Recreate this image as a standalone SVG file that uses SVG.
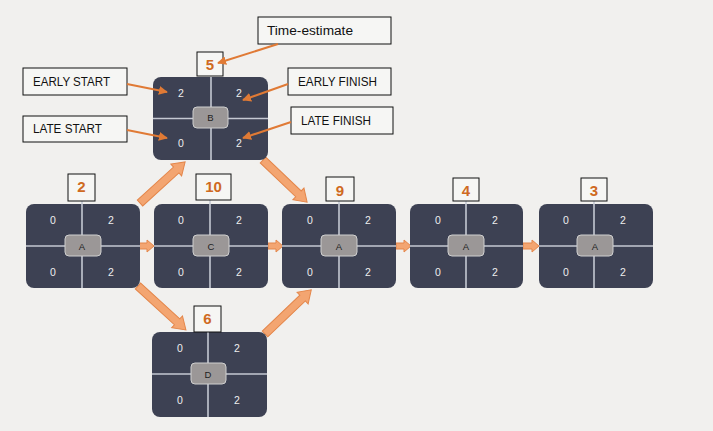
<svg xmlns="http://www.w3.org/2000/svg" width="713" height="431" viewBox="0 0 713 431">
<defs>
<marker id="ah" viewBox="0 0 10 10" refX="9" refY="5" markerWidth="4.5" markerHeight="4.5" orient="auto" markerUnits="strokeWidth">
<path d="M0,0 L10,5 L0,10 z" fill="#e07a35"/>
</marker>
</defs>
<style>
.bg{fill:#f1f0ee}
.node{fill:#3d4153}
.div{stroke:#c5c8d2;stroke-width:1.6}
.lbl{fill:#9b9797;stroke:#cfcfcf;stroke-width:1}
.num{font-family:"Liberation Sans",Arial,sans-serif;font-size:10.5px;fill:#eeeeee;text-anchor:middle}
.nm{font-family:"Liberation Sans",Arial,sans-serif;font-size:9.5px;fill:#1e1e1e;text-anchor:middle}
.est{fill:#f6f6f4;stroke:#111;stroke-width:1}
.estt{font-family:"Liberation Sans",Arial,sans-serif;font-size:15px;font-weight:bold;fill:#cf6a22;text-anchor:middle}
.cap{fill:#f6f6f4;stroke:#111;stroke-width:1}
.capt{font-family:"Liberation Sans",Arial,sans-serif;font-size:12.5px;fill:#111}
.thin{stroke:#e07a35;stroke-width:2;fill:none;marker-end:url(#ah)}
.blk{fill:#f3a571;stroke:#e4864a;stroke-width:1}
</style>
<rect class="bg" x="0" y="0" width="713" height="431"/>

<g id="connectors">
<path class="blk" d="M0,-4 L49,-4 L49,-8 L61,0 L49,8 L49,4 L0,4 z" transform="translate(140,203) rotate(-42.3)"/>
<path class="blk" d="M0,-4 L49,-4 L49,-8 L61,0 L49,8 L49,4 L0,4 z" transform="translate(263,160) rotate(43.7)"/>
<path class="blk" d="M0,-4 L53,-4 L53,-8 L65,0 L53,8 L53,4 L0,4 z" transform="translate(138,286) rotate(42.5)"/>
<path class="blk" d="M0,-4 L52,-4 L52,-8 L64,0 L52,8 L52,4 L0,4 z" transform="translate(265,334) rotate(-43.7)"/>
<path class="blk" d="M139,243 L147,243 L147,240 L154,246 L147,252 L147,249 L139,249 z"/>
<path class="blk" d="M268,243 L276,243 L276,240 L283,246 L276,252 L276,249 L268,249 z"/>
<path class="blk" d="M396,243 L404,243 L404,240 L411,246 L404,252 L404,249 L396,249 z"/>
<path class="blk" d="M523,243 L532,243 L532,240 L539,246 L532,252 L532,249 L523,249 z"/>
</g>

<g id="node-B" transform="translate(153,77)">
<rect class="node" x="0" y="0" width="115" height="83" rx="8"/>
<line class="div" x1="58" y1="0" x2="58" y2="83"/>
<line class="div" x1="0" y1="41.5" x2="115" y2="41.5"/>
<rect class="lbl" x="40" y="30" width="35" height="21" rx="4"/>
<text class="nm" x="57.5" y="44">B</text>
<text class="num" x="28" y="20">2</text><text class="num" x="86" y="20">2</text>
<text class="num" x="28" y="70">0</text><text class="num" x="86" y="70">2</text>
<rect class="est" x="44" y="-25" width="26" height="24"/>
<text class="estt" x="57" y="-7">5</text>
</g>

<g id="node-A" transform="translate(26,204)">
<rect class="node" x="0" y="0" width="114" height="84" rx="8"/>
<line class="div" x1="56" y1="-3" x2="56" y2="84"/>
<line class="div" x1="0" y1="42" x2="114" y2="42"/>
<rect class="lbl" x="39" y="31" width="36" height="21" rx="4"/>
<text class="nm" x="56" y="45.5">A</text>
<text class="num" x="27" y="20">0</text><text class="num" x="85" y="20">2</text>
<text class="num" x="27" y="72">0</text><text class="num" x="85" y="72">2</text>
<rect class="est" x="42" y="-30" width="27" height="27"/>
<text class="estt" x="55.5" y="-12">2</text>
</g>

<g id="node-C" transform="translate(154,204)">
<rect class="node" x="0" y="0" width="114" height="84" rx="8"/>
<line class="div" x1="56" y1="-4" x2="56" y2="84"/>
<line class="div" x1="0" y1="42" x2="114" y2="42"/>
<rect class="lbl" x="39" y="31" width="36" height="21" rx="4"/>
<text class="nm" x="57" y="45.5">C</text>
<text class="num" x="27" y="20">0</text><text class="num" x="85" y="20">2</text>
<text class="num" x="27" y="72">0</text><text class="num" x="85" y="72">2</text>
<rect class="est" x="42" y="-30" width="35" height="26"/>
<text class="estt" x="59.5" y="-12">10</text>
</g>

<g id="node-A2" transform="translate(282,204)">
<rect class="node" x="0" y="0" width="114" height="84" rx="8"/>
<line class="div" x1="57" y1="-3" x2="57" y2="84"/>
<line class="div" x1="0" y1="42" x2="114" y2="42"/>
<rect class="lbl" x="39" y="31" width="36" height="21" rx="4"/>
<text class="nm" x="57" y="45.5">A</text>
<text class="num" x="28" y="20">0</text><text class="num" x="86" y="20">2</text>
<text class="num" x="28" y="72">0</text><text class="num" x="86" y="72">2</text>
<rect class="est" x="44" y="-27" width="28" height="24"/>
<text class="estt" x="58" y="-8">9</text>
</g>

<g id="node-A3" transform="translate(410,204)">
<rect class="node" x="0" y="0" width="113" height="84" rx="8"/>
<line class="div" x1="56" y1="-3" x2="56" y2="84"/>
<line class="div" x1="0" y1="42" x2="113" y2="42"/>
<rect class="lbl" x="38" y="31" width="36" height="21" rx="4"/>
<text class="nm" x="56" y="45.5">A</text>
<text class="num" x="28" y="20">0</text><text class="num" x="85" y="20">2</text>
<text class="num" x="28" y="72">0</text><text class="num" x="85" y="72">2</text>
<rect class="est" x="43" y="-26" width="26" height="23"/>
<text class="estt" x="56" y="-8">4</text>
</g>

<g id="node-A4" transform="translate(539,204)">
<rect class="node" x="0" y="0" width="114" height="84" rx="8"/>
<line class="div" x1="55" y1="-3" x2="55" y2="84"/>
<line class="div" x1="0" y1="42" x2="114" y2="42"/>
<rect class="lbl" x="38" y="31" width="36" height="21" rx="4"/>
<text class="nm" x="56" y="45.5">A</text>
<text class="num" x="27" y="20">0</text><text class="num" x="84" y="20">2</text>
<text class="num" x="27" y="72">0</text><text class="num" x="84" y="72">2</text>
<rect class="est" x="42" y="-26" width="26" height="23"/>
<text class="estt" x="55" y="-8">3</text>
</g>

<g id="node-D" transform="translate(152,332)">
<rect class="node" x="0" y="0" width="115" height="85" rx="8"/>
<line class="div" x1="56" y1="0" x2="56" y2="85"/>
<line class="div" x1="0" y1="42" x2="115" y2="42"/>
<rect class="lbl" x="39" y="31" width="35" height="21" rx="4"/>
<text class="nm" x="56" y="45.5">D</text>
<text class="num" x="28" y="20">0</text><text class="num" x="85" y="20">2</text>
<text class="num" x="28" y="72">0</text><text class="num" x="85" y="72">2</text>
<rect class="est" x="42" y="-26" width="27" height="26"/>
<text class="estt" x="55.5" y="-8">6</text>
</g>

<g id="legend">
<rect class="cap" x="258" y="17" width="133" height="27"/>
<text class="capt" x="267" y="35" font-size="13.5" textLength="86" lengthAdjust="spacingAndGlyphs">Time-estimate</text>
<rect class="cap" x="23" y="68" width="104" height="27"/>
<text class="capt" x="33" y="86" textLength="77" lengthAdjust="spacingAndGlyphs">EARLY START</text>
<rect class="cap" x="23" y="116" width="104" height="26"/>
<text class="capt" x="33" y="133" textLength="69" lengthAdjust="spacingAndGlyphs">LATE START</text>
<rect class="cap" x="288" y="68" width="103" height="27"/>
<text class="capt" x="298" y="86" textLength="79" lengthAdjust="spacingAndGlyphs">EARLY FINISH</text>
<rect class="cap" x="291" y="107" width="102" height="27"/>
<text class="capt" x="301" y="125" textLength="70" lengthAdjust="spacingAndGlyphs">LATE FINISH</text>
</g>

<g id="legend-arrows">
<line class="thin" x1="127" y1="84" x2="167" y2="92"/>
<line class="thin" x1="127" y1="130" x2="167" y2="138"/>
<line class="thin" x1="278" y1="44" x2="218" y2="63"/>
<line class="thin" x1="288" y1="84" x2="243" y2="100"/>
<line class="thin" x1="291" y1="122" x2="243" y2="138"/>
</g>
</svg>
